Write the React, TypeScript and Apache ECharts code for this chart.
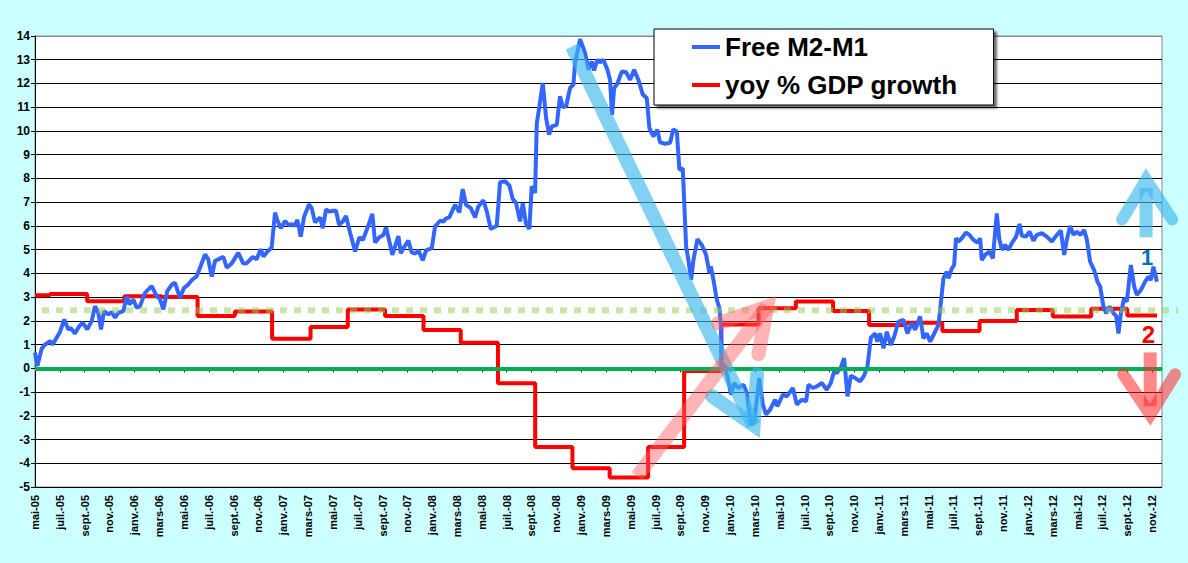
import React, { useEffect, useRef } from 'react';
import * as echarts from 'echarts';

// x axis = months since mai 2005
const monthNames = ['janv.', 'févr.', 'mars', 'avr.', 'mai', 'juin', 'juil.', 'août', 'sept.', 'oct.', 'nov.', 'déc.'];
const firstMonth = 4;
const firstYear = 2005;
const lastMonth = 90.8;
const tickMonths = Array.from({ length: 46 }, (_, i) => i * 2);
const yMin = -5;
const yMax = 14;

// [month, value] - weekly-ish readings of Free M2-M1
const freeM2M1 = [
  [0, 0.66], [0.19, 0.1], [0.54, 0.83], [0.81, 1.0], [1.21, 1.15], [1.43, 1.0], [1.75, 1.3], [2.01, 1.53], [2.36, 2.06], [2.68, 1.64],
  [2.88, 1.7], [3.22, 1.47], [3.57, 1.78], [3.84, 1.92], [4.21, 1.64], [4.57, 1.99], [4.83, 2.62], [5.1, 2.34], [5.32, 1.64], [5.56, 2.41],
  [5.91, 2.27], [6.18, 2.37], [6.45, 2.13], [6.71, 2.34], [7.12, 2.41], [7.39, 3.04], [7.6, 2.69], [7.92, 2.9], [8.19, 2.55], [8.46, 2.62],
  [8.86, 3.18], [9.4, 3.46], [9.81, 3.04], [10.07, 2.9], [10.34, 2.48], [10.66, 3.25], [11.02, 3.53], [11.28, 3.6], [11.68, 2.97], [12.01, 3.39],
  [12.27, 3.49], [12.68, 3.74], [13.03, 3.88], [13.35, 4.31], [13.7, 4.8], [13.96, 4.59], [14.24, 3.86], [14.5, 4.52], [14.77, 4.59], [15.17, 4.7],
  [15.45, 4.24], [15.85, 4.42], [16.38, 4.87], [16.78, 4.41], [17.06, 4.43], [17.54, 4.69], [17.86, 4.6], [18.19, 5.02], [18.4, 4.71], [18.67, 4.88],
  [19.07, 5.1], [19.34, 6.56], [19.52, 6.25], [19.8, 5.9], [20.15, 6.21], [20.41, 6.04], [20.68, 6.07], [20.89, 6.0], [21.14, 6.25], [21.41, 5.55],
  [21.68, 6.39], [22.08, 6.91], [22.3, 6.74], [22.56, 6.15], [22.97, 6.36], [23.18, 5.9], [23.45, 6.7], [23.71, 6.6], [24.04, 6.64], [24.25, 6.64],
  [24.5, 6.04], [24.79, 6.18], [25.06, 6.42], [25.38, 5.72], [25.79, 4.92], [26.13, 5.52], [26.41, 5.41], [26.78, 5.9], [27.18, 6.5], [27.4, 5.3],
  [27.74, 5.52], [28.07, 5.62], [28.28, 5.94], [28.55, 5.34], [28.79, 4.78], [29.07, 5.24], [29.28, 5.57], [29.47, 4.85], [29.73, 5.1], [30.08, 5.38],
  [30.35, 4.88], [30.62, 4.83], [30.89, 4.97], [31.24, 4.55], [31.51, 4.97], [31.97, 5.06], [32.23, 5.97], [32.63, 6.22], [32.9, 6.18], [33.12, 6.32],
  [33.38, 6.36], [33.84, 6.89], [34.19, 6.57], [34.46, 7.55], [34.73, 6.89], [35.11, 6.75], [35.46, 6.36], [35.72, 6.82], [36.12, 7.08], [36.4, 6.61],
  [36.72, 5.87], [37.2, 6.01], [37.47, 7.84], [37.87, 7.88], [38.22, 7.7], [38.49, 7.13], [38.76, 6.96], [39.08, 6.19], [39.3, 6.96], [39.56, 6.09],
  [39.83, 5.87], [40.02, 7.67], [40.29, 7.39], [40.43, 10.33], [40.64, 11.04], [40.91, 12.02], [41.18, 10.54], [41.42, 9.84], [41.64, 10.19], [42.04, 10.26],
  [42.3, 11.46], [42.52, 11.01], [42.79, 11.04], [43.11, 11.81], [43.38, 11.95], [43.51, 12.86], [43.92, 13.87], [44.32, 13.28], [44.59, 12.58], [44.86, 12.93],
  [45.04, 12.55], [45.31, 13.0], [45.53, 12.89], [45.79, 13.0], [46.12, 12.58], [46.33, 12.16], [46.49, 10.68], [46.66, 11.81], [46.92, 11.99], [47.28, 12.51],
  [47.62, 12.47], [47.95, 12.16], [48.27, 12.58], [48.61, 12.16], [48.97, 11.53], [49.29, 11.39], [49.5, 10.12], [49.82, 9.77], [50.14, 10.05], [50.36, 9.52],
  [50.77, 9.46], [51.17, 9.5], [51.43, 10.07], [51.71, 9.97], [51.92, 8.36], [52.19, 8.43], [52.46, 5.13], [52.64, 4.57], [52.86, 3.73], [53.05, 4.57],
  [53.37, 5.44], [53.72, 5.2], [54.07, 4.78], [54.34, 4.01], [54.45, 4.29], [54.66, 3.73], [54.93, 2.89], [55.14, 2.54], [55.25, 1.91], [55.33, 0.15],
  [55.6, 0.08], [55.87, -0.55], [56.08, -1.11], [56.33, -0.62], [56.67, -0.83], [57.08, -0.69], [57.35, -1.04], [57.67, -2.37], [57.94, -2.3], [58.36, -0.41],
  [58.64, -1.53], [58.9, -1.95], [59.23, -1.74], [59.63, -1.32], [59.81, -1.6], [60.25, -1.11], [60.57, -1.18], [61.06, -0.83], [61.38, -1.53], [61.78, -1.32],
  [62.13, -1.39], [62.31, -0.69], [62.67, -0.83], [62.99, -0.76], [63.39, -0.62], [63.79, -0.9], [64.12, -0.62], [64.38, -0.13], [64.6, -0.2], [64.92, 0.04],
  [65.19, 0.43], [65.46, -1.18], [65.73, -0.31], [66.08, -0.41], [66.48, -0.55], [66.8, -0.31], [67.07, 0.08], [67.34, 1.28], [67.69, 1.47], [67.87, 1.12],
  [68.09, 1.47], [68.36, 0.84], [68.63, 1.54], [68.95, 0.98], [69.22, 1.33], [69.57, 1.97], [69.97, 2.04], [70.29, 1.47], [70.64, 1.9], [70.91, 1.62],
  [71.31, 2.18], [71.58, 1.26], [71.85, 1.47], [72.12, 1.12], [72.52, 1.54], [72.79, 1.83], [72.98, 2.74], [73.19, 3.79], [73.46, 4.07], [73.59, 3.79],
  [73.87, 4.21], [74.05, 4.35], [74.21, 5.48], [74.4, 5.34], [74.67, 5.48], [75.02, 5.72], [75.29, 5.62], [75.61, 5.41], [75.93, 5.29], [76.15, 5.48],
  [76.28, 4.56], [76.55, 4.78], [76.9, 4.92], [77.17, 4.63], [77.49, 6.53], [77.68, 5.48], [77.9, 4.99], [78.16, 5.2], [78.43, 4.99], [78.7, 5.27],
  [79.05, 5.55], [79.32, 6.08], [79.51, 5.58], [79.85, 5.55], [80.12, 5.76], [80.44, 5.38], [80.72, 5.62], [81.12, 5.69], [81.52, 5.55], [81.93, 5.34],
  [82.33, 5.62], [82.65, 5.8], [82.92, 4.78], [83.13, 5.41], [83.4, 6.0], [83.67, 5.62], [83.94, 5.76], [84.21, 5.62], [84.53, 5.83], [84.75, 5.41],
  [85.01, 4.49], [85.33, 4.14], [85.6, 3.65], [85.82, 3.44], [86.08, 2.6], [86.3, 2.32], [86.57, 2.6], [86.89, 2.32], [87.11, 2.21], [87.29, 1.47],
  [87.49, 2.32], [87.75, 2.95], [87.97, 2.81], [88.29, 4.35], [88.56, 3.44], [88.77, 3.09], [89.1, 3.3], [89.44, 3.65], [89.71, 3.86], [89.9, 3.72],
  [90.11, 4.28], [90.39, 3.65],
];

// [month the value starts, yoy % GDP growth]
const gdpGrowth = [
  [0, 3.08], [1.2, 3.13], [4.2, 2.83], [7.2, 3.04], [10.2, 3.0], [13.1, 2.2], [16.1, 2.39], [19.1, 1.25], [22.2, 1.74], [25.2, 2.48],
  [28.2, 2.2], [31.3, 1.61], [34.3, 1.08], [37.3, -0.63], [40.3, -3.31], [43.3, -4.21], [46.3, -4.6], [49.4, -3.31], [52.3, -0.11], [55.3, 1.85],
  [58.3, 2.53], [61.3, 2.81], [64.3, 2.41], [67.2, 1.82], [70.2, 1.92], [73.1, 1.57], [76.1, 1.99], [79.1, 2.46], [82.0, 2.18], [85.1, 2.51],
  [88.0, 2.23],
];
const gdpEnd = 90.4;
const trendLevel = 2.45;

const monthLabel = (m: number) => {
  const k = firstMonth + Math.round(m);
  const yy = (firstYear + Math.floor(k / 12)) % 100;
  return `${monthNames[k % 12]}-${String(yy).padStart(2, '0')}`;
};

const FONT = 'Arial, "Liberation Sans", sans-serif';

export default function App() {
  const ref = useRef<HTMLDivElement>(null);

  useEffect(() => {
    const chart = echarts.init(ref.current, null, { renderer: 'svg' });
    const splitColors = Array.from({ length: yMax - yMin + 1 }, (_, i) => (i === yMax - yMin ? '#888888' : '#000000'));

    chart.setOption({
      animation: false,
      backgroundColor: '#ccffff',
      grid: {
        left: 35, right: 26, top: 36, bottom: 76,
        show: true, backgroundColor: '#ffffff', borderColor: '#888888', borderWidth: 1,
        outerBoundsMode: 'none',
      },
      legend: {
        orient: 'vertical',
        left: 654,
        top: 29,
        padding: [3, 36, 5, 38],
        itemGap: 8,
        itemWidth: 28,
        itemHeight: 4,
        icon: 'rect',
        backgroundColor: '#ffffff',
        borderColor: '#000000',
        borderWidth: 1,
        borderRadius: 0,
        shadowColor: 'rgba(0,0,0,0.55)',
        shadowBlur: 2,
        shadowOffsetX: 3,
        shadowOffsetY: 3,
        textStyle: { fontSize: 26, fontWeight: 'bold', color: '#000', fontFamily: FONT, lineHeight: 30 },
        data: ['Free M2-M1', 'yoy % GDP growth'],
      },
      xAxis: {
        type: 'value',
        min: 0,
        max: lastMonth,
        splitLine: { show: false },
        axisLine: { lineStyle: { color: '#000', width: 1 } },
        axisTick: { length: 4, lineStyle: { color: '#000' }, customValues: tickMonths },
        axisLabel: {
          customValues: tickMonths,
          rotate: 90,
          margin: 8,
          color: '#000',
          fontSize: 11,
          fontWeight: 'bold',
          fontFamily: FONT,
          formatter: (v: number) => monthLabel(v),
        },
      },
      yAxis: {
        type: 'value',
        min: yMin,
        max: yMax,
        interval: 1,
        axisLine: { show: true, lineStyle: { color: '#000', width: 1 } },
        axisTick: { show: true, length: 4, lineStyle: { color: '#000' } },
        axisLabel: { margin: 5, color: '#000', fontSize: 12, fontWeight: 'bold', fontFamily: FONT },
        splitLine: { show: true, lineStyle: { color: splitColors, width: 1 } },
      },
      series: [
        {
          name: 'yoy % GDP growth',
          type: 'line',
          step: 'end',
          symbol: 'none',
          lineStyle: { color: '#ff0000', width: 4 },
          itemStyle: { color: '#ff0000' },
          data: [...gdpGrowth, [gdpEnd, gdpGrowth[gdpGrowth.length - 1][1]]],
          markLine: {
            silent: true,
            symbol: ['none', 'none'],
            label: { show: false },
            lineStyle: { color: '#00b050', width: 4, type: 'solid' },
            data: [{ yAxis: 0 }],
          },
          z: 2,
        },
        {
          name: 'Free M2-M1',
          type: 'line',
          symbol: 'none',
          lineStyle: { color: '#3366ff', width: 4 },
          itemStyle: { color: '#3366ff' },
          data: freeM2M1,
          z: 3,
        },
      ],
    });

    const px = (p: number[]) => chart.convertToPixel({ gridIndex: 0 }, p) as number[];
    const line = (a: number[], b: number[], color: string, w: number, dash?: number[]) => {
      const p1 = px(a);
      const p2 = px(b);
      return {
        type: 'line', z: 20, silent: true,
        shape: { x1: p1[0], y1: p1[1], x2: p2[0], y2: p2[1] },
        style: { stroke: color, lineWidth: w, lineCap: 'butt', lineDash: dash, lineDashOffset: dash ? 7 : 0 },
      };
    };
    const head = (pts: number[][], color: string, w: number) => ({
      type: 'polyline', z: 20, silent: true,
      shape: { points: pts.map(px) },
      style: { stroke: color, fill: 'none', lineWidth: w, lineCap: 'round', lineJoin: 'miter' },
    });
    const label = (p: number[], text: string, color: string, size: number) => {
      const q = px(p);
      return {
        type: 'text', z: 21, silent: true, x: q[0], y: q[1],
        style: {
          text, fill: color, font: `bold ${size}px ${FONT}`,
          align: 'center', verticalAlign: 'middle', textAlign: 'center', textVerticalAlign: 'middle',
        },
      };
    };

    const lightBlue = 'rgba(60,185,235,0.65)';
    const pink = 'rgba(255,90,90,0.45)';
    const red = 'rgba(255,40,40,0.55)';

    chart.setOption({
      graphic: [
        line([0, trendLevel], [92.1, trendLevel], 'rgba(146,208,80,0.5)', 6, [7, 7]),
        // big falling arrow
        line([43.27, 13.56], [57.9, -2.4], lightBlue, 14),
        head([[54.55, -1.18], [57.9, -2.4], [58.18, -0.25]], lightBlue, 14),
        // rising arrow
        line([48.51, -4.55], [59.0, 2.6], pink, 14),
        head([[55.04, 1.89], [59.0, 2.6], [58.29, 0.59]], pink, 14),
        // right: up arrow 1
        line([89.52, 5.52], [89.52, 7.6], lightBlue, 13),
        head([[87.59, 6.27], [89.52, 7.95], [91.62, 6.27]], lightBlue, 12),
        label([89.6, 4.67], '1', '#0070c0', 22),
        // right: down arrow 2
        line([89.85, 0.67], [89.85, -1.6], red, 13),
        head([[87.67, -0.25], [89.85, -1.95], [91.86, -0.25]], red, 12),
        label([89.7, 1.43], '2', '#ff0000', 24),
      ],
    });

    return () => {
      chart.dispose();
    };
  }, []);

  return <div ref={ref} style={{ position: 'fixed', left: 0, top: 0, width: 1188, height: 563 }} />;
}
